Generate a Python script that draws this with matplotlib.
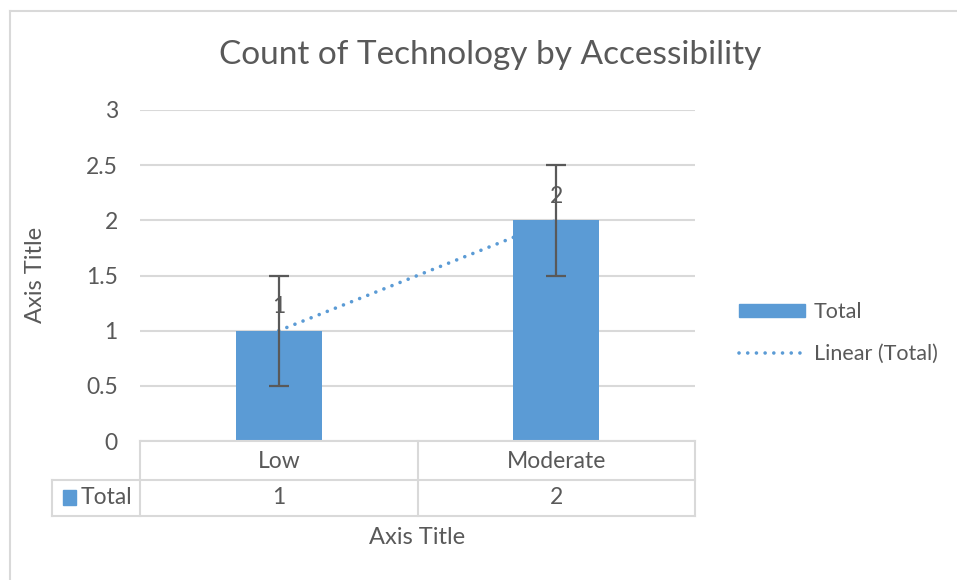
import numpy as np
import matplotlib.pyplot as plt
from matplotlib.lines import Line2D
from matplotlib.patches import Patch

categories = ["Low", "Moderate"]
totals = [1, 2]
error_size = 0.5
series_name = "Total"

BAR = "#5B9BD5"
TEXT = "#595959"
GRID = "#D9D9D9"
W, H = 957, 580
DOTS = (0, (0.01, 2.4))

plt.rcParams["font.family"] = ["Lato", "DejaVu Sans"]


def fx(px):
    return px / W


def fy(py):
    return 1 - py / H


fig = plt.figure(figsize=(W / 100, H / 100), dpi=100)
ax = fig.add_axes([fx(140), fy(441), fx(695) - fx(140), fy(110) - fy(441)])

x = np.arange(1, len(categories) + 1)
values = np.array(totals, dtype=float)

# linear trendline sits behind the bars
coef = np.polyfit(x, values, 1)
ax.plot(x, np.polyval(coef, x), color=BAR, linestyle=DOTS,
        linewidth=2.6, zorder=1, dash_capstyle="round")
ax.bar(x, values, width=0.31, color=BAR, zorder=2)
ax.errorbar(x, values, yerr=error_size, fmt="none", ecolor=TEXT,
            elinewidth=1.6, capsize=7, capthick=1.6, zorder=3)
for xi, v in zip(x, totals):
    ax.text(xi, v + 0.22, str(v), ha="center", va="center",
            fontsize=16.5, color=TEXT, zorder=4)

ax.set_xlim(0.5, len(categories) + 0.5)
ax.set_ylim(0, 3)
ax.set_yticks(np.arange(0, 3.01, 0.5))
ax.set_yticklabels(["0", "0.5", "1", "1.5", "2", "2.5", "3"])
ax.tick_params(axis="y", length=0, pad=16, labelsize=16.5, labelcolor=TEXT)
ax.set_xticks([])
ax.grid(axis="y", color=GRID, linewidth=1.5, zorder=0)
ax.set_axisbelow(True)
for s in ax.spines.values():
    s.set_visible(False)
fig.text(fx(35), fy(275), "Axis Title", rotation=90, ha="center", va="center",
         fontsize=17, color=TEXT)

# data table under the axis
line_kw = dict(color=GRID, linewidth=1.5, transform=fig.transFigure)
fig.add_artist(Line2D([fx(140), fx(695)], [fy(441), fy(441)], **line_kw))
fig.add_artist(Line2D([fx(52), fx(695)], [fy(480), fy(480)], **line_kw))
fig.add_artist(Line2D([fx(52), fx(695)], [fy(516), fy(516)], **line_kw))
fig.add_artist(Line2D([fx(52), fx(52)], [fy(480), fy(516)], **line_kw))
col_edges = np.linspace(140, 695, len(categories) + 1)
for e in col_edges:
    fig.add_artist(Line2D([fx(e), fx(e)], [fy(441), fy(516)], **line_kw))
for i, (cat, v) in enumerate(zip(categories, totals)):
    cx = (col_edges[i] + col_edges[i + 1]) / 2
    fig.text(fx(cx), fy(461), cat, ha="center", va="center", fontsize=16.5, color=TEXT)
    fig.text(fx(cx), fy(498), str(v), ha="center", va="center", fontsize=16.5, color=TEXT)
fig.add_artist(plt.Rectangle((fx(63), fy(505)), fx(13), fy(490) - fy(505),
                             color=BAR, transform=fig.transFigure))
fig.text(fx(81), fy(498), series_name, ha="left", va="center", fontsize=16.5, color=TEXT)

fig.text(fx(417), fy(538), "Axis Title", ha="center", va="center", fontsize=17, color=TEXT)
fig.text(fx(490), fy(55), "Count of Technology by Accessibility", ha="center",
         va="center", fontsize=24, color=TEXT)

handles = [Patch(color=BAR, label=series_name),
           Line2D([], [], color=BAR, linestyle=DOTS, linewidth=2.6,
                  dash_capstyle="round", label="Linear (Total)")]
fig.legend(handles=handles, loc="center left", bbox_to_anchor=(fx(730), fy(333)),
           frameon=False, fontsize=15.5, labelcolor=TEXT, handlelength=3.1,
           handleheight=0.55, labelspacing=1.05, handletextpad=0.4,
           borderaxespad=0)

# chart frame
fig.add_artist(Line2D([fx(9.5), fx(9.5)], [fy(11), 0], **line_kw))
fig.add_artist(Line2D([fx(9.5), 1], [fy(11), fy(11)], **line_kw))

fig.savefig("out.png", dpi=100)
